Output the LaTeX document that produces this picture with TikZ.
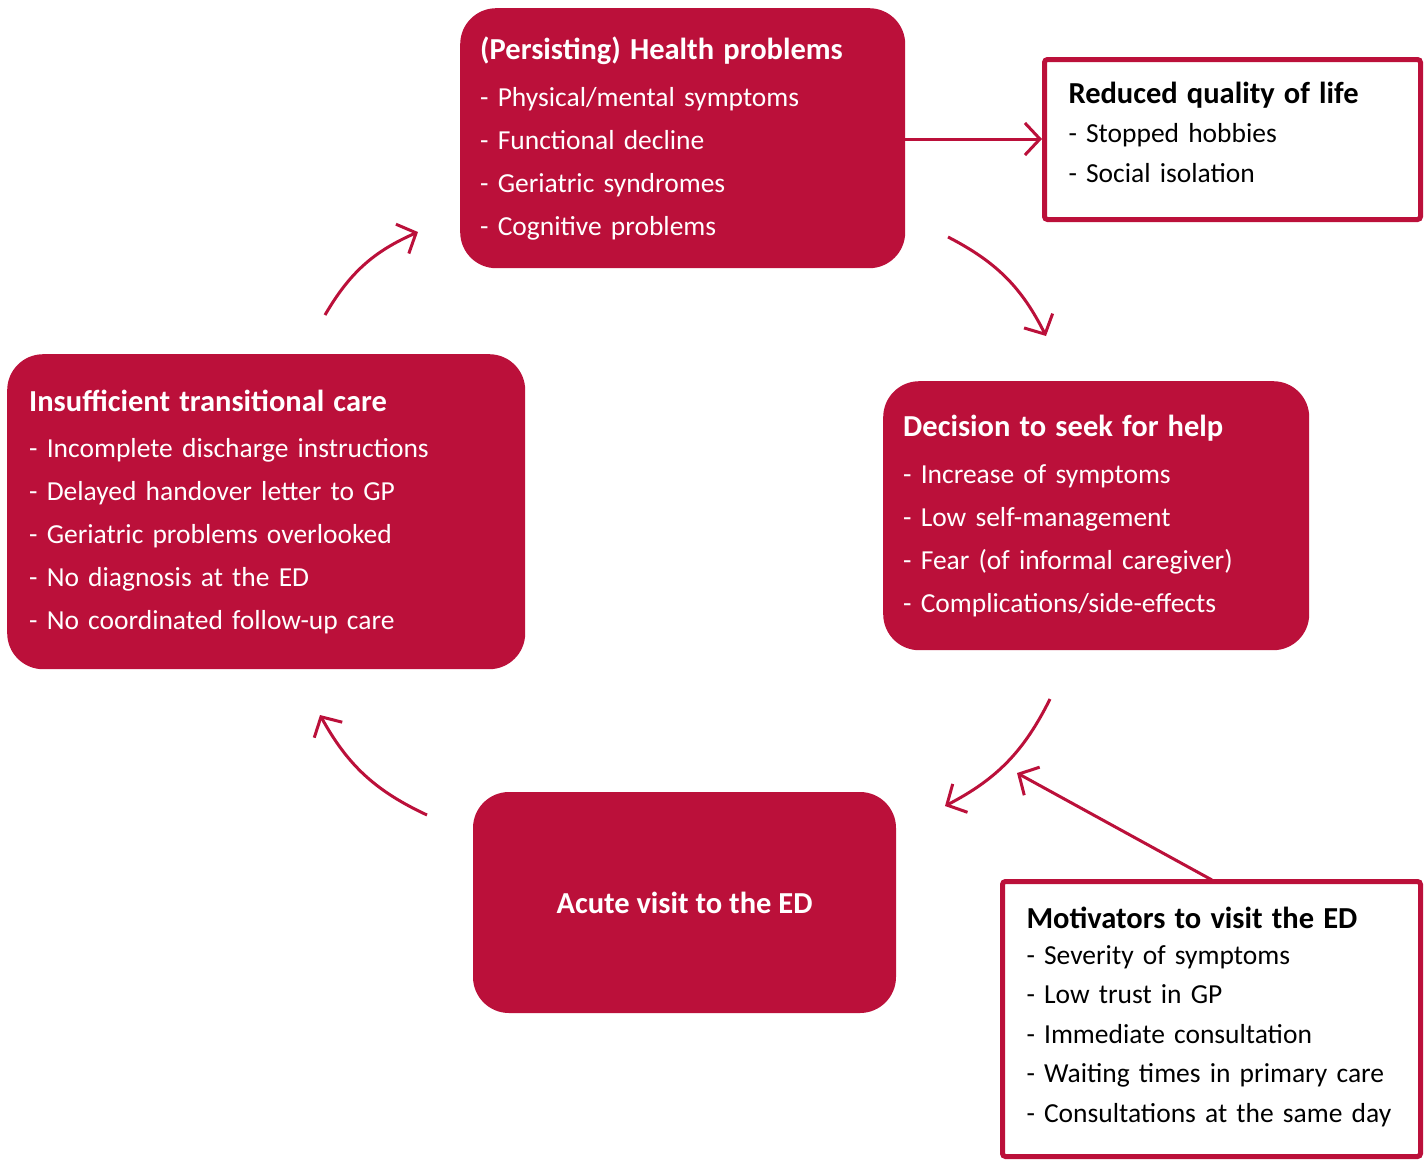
\documentclass[tikz,border=0pt]{standalone}
\usepackage{fontspec}
\setmainfont{Carlito}
\usetikzlibrary{arrows.meta}
\definecolor{crim}{RGB}{187,16,58}
\newcommand{\ttl}[1]{{\fontsize{30.5}{43}\selectfont\bfseries #1}}
\tikzset{
  redbox/.style={fill=crim, rounded corners=36pt, text=white, align=left, inner xsep=20pt, inner ysep=0pt, anchor=north west, font=\fontsize{27.5}{43}\selectfont},
  framebox/.style={draw=crim, line width=5pt, fill=white, rounded corners=3pt, text=black, align=left, inner xsep=24pt, inner ysep=0pt, anchor=north west, font=\fontsize{27.5}{39.5}\selectfont},
  flow/.style={draw=crim, line width=3pt, -{Straight Barb[length=15pt,width=32pt,line width=3pt]}},
}
\begin{document}
\begin{tikzpicture}[x=1pt,y=-1pt]
\useasboundingbox (0,0) rectangle (1424,1162);
% boxes
\node[redbox, minimum width=445pt, minimum height=260pt, text width=405pt] (health) at (460,8)
 {\ttl{(Persisting) Health problems}\\[4pt]- Physical/mental symptoms\\- Functional decline\\- Geriatric syndromes\\- Cognitive problems};
\node[framebox, minimum width=376pt, minimum height=160pt, text width=328pt] (qol) at (1042,57)
 {\ttl{Reduced quality of life}\\[0pt]- Stopped hobbies\\- Social isolation\par\vspace{15pt}};
\node[redbox, minimum width=426pt, minimum height=269pt, text width=386pt] (decision) at (883,381)
 {\ttl{Decision to seek for help}\\[4pt]- Increase of symptoms\\- Low self-management\\- Fear (of informal caregiver)\\- Complications/side-effects};
\node[redbox, minimum width=514pt, minimum height=315pt, text width=474pt, inner xsep=22pt] (insuff) at (7,354)
 {\ttl{Insufficient transitional care}\\[3pt]- Incomplete discharge instructions\\- Delayed handover letter to GP\\- Geriatric problems overlooked\\- No diagnosis at the ED\\- No coordinated follow-up care};
\node[redbox, minimum width=423pt, minimum height=221pt, align=center, anchor=center] (acute) at (684.5,902.5)
 {\ttl{Acute visit to the ED}};
\node[framebox, minimum width=418pt, minimum height=275pt, text width=370pt] (motiv) at (1000,879)
 {\ttl{Motivators to visit the ED}\\[-4pt]- Severity of symptoms\\- Low trust in GP\\- Immediate consultation\\- Waiting times in primary care\\- Consultations at the same day\par\vspace{4pt}};
% free ends of cycle arrows
\coordinate (a1s) at (325,315); \coordinate (a1e) at (418,232);
\coordinate (a2s) at (948,237); \coordinate (a2e) at (1046,336);
\coordinate (a3s) at (1050,699); \coordinate (a3e) at (945,806);
\coordinate (a4s) at (427,815); \coordinate (a4e) at (320,715);
\coordinate (m1) at (1212,880); \coordinate (m2) at (1017,773);
\draw[flow] (a1s) to[bend left=18] (a1e);
\draw[flow] (a2s) to[bend left=18] (a2e);
\draw[flow] (a3s) to[bend left=18] (a3e);
\draw[flow] (a4s) to[bend left=18] (a4e);
\draw[flow] (m1) -- (m2);
\draw[flow] (health.east |- 0,139) -- (qol.west |- 0,139);
\end{tikzpicture}
\end{document}
